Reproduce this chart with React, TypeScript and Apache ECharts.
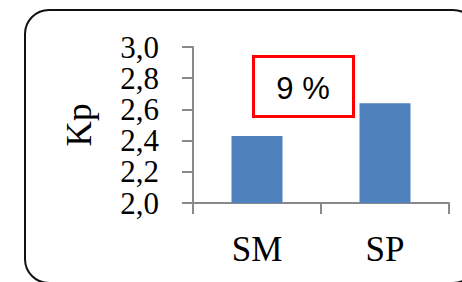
import React, { useEffect, useRef } from "react";
import * as echarts from "echarts";

const categories = ["SM", "SP"];
const kpValues = [2.43, 2.64];
const yTicks = { min: 2.0, max: 3.0, step: 0.2 };
const axisName = "Kp";
const boxLabel = "9 %";

export default function App() {
  const ref = useRef<HTMLDivElement>(null);
  useEffect(() => {
    if (!ref.current) return;
    const chart = echarts.init(ref.current, undefined, { renderer: "svg" });
    const serif = "Liberation Serif";
    chart.setOption({
      animation: false,
      backgroundColor: "#ffffff",
      grid: { left: 193, right: 13, top: 47, bottom: 79, containLabel: false },
      xAxis: {
        type: "category",
        data: categories,
        axisLine: { show: true, lineStyle: { color: "#898989", width: 2 } },
        axisTick: { show: true, length: 11, alignWithLabel: false, lineStyle: { color: "#898989", width: 2 } },
        axisLabel: { color: "#000", fontFamily: serif, fontSize: 35, margin: 29 },
        splitLine: { show: false },
      },
      yAxis: {
        type: "value",
        min: yTicks.min,
        max: yTicks.max,
        interval: yTicks.step,
        name: axisName,
        nameLocation: "middle",
        nameGap: 99,
        nameRotate: 90,
        nameTextStyle: { color: "#000", fontFamily: serif, fontSize: 35, lineHeight: 30 },
        axisLine: { show: true, lineStyle: { color: "#898989", width: 2 } },
        axisTick: { show: true, length: 11, lineStyle: { color: "#898989", width: 2 } },
        axisLabel: {
          color: "#000",
          fontFamily: serif,
          fontSize: 31,
          lineHeight: 29,
          margin: 34,
          showMinLabel: true,
          showMaxLabel: true,
          hideOverlap: false,
          formatter: (v: number) => v.toFixed(1).replace(".", ","),
        },
        splitLine: { show: false },
      },
      series: [
        {
          type: "bar",
          data: kpValues,
          barWidth: 51,
          itemStyle: { color: "#4F81BD" },
        },
      ],
      graphic: [
        {
          type: "rect",
          shape: { x: 25, y: 10, width: 452, height: 273, r: 24 },
          style: { fill: "none", stroke: "#111", lineWidth: 2 },
          z: 10,
        },
        {
          type: "rect",
          shape: { x: 253.5, y: 56.5, width: 100, height: 60 },
          style: { fill: "#fff", stroke: "#ff0000", lineWidth: 3 },
          z: 10,
        },
        {
          type: "text",
          x: 303,
          y: 88,
          style: {
            text: boxLabel,
            fill: "#000",
            font: "31px 'Liberation Sans'",
            align: "center",
            verticalAlign: "middle",
          },
          z: 11,
        },
      ],
    });
    return () => chart.dispose();
  }, []);
  return (
    <div
      ref={ref}
      style={{ position: "fixed", left: 0, top: 0, width: 462, height: 282 }}
    />
  );
}
